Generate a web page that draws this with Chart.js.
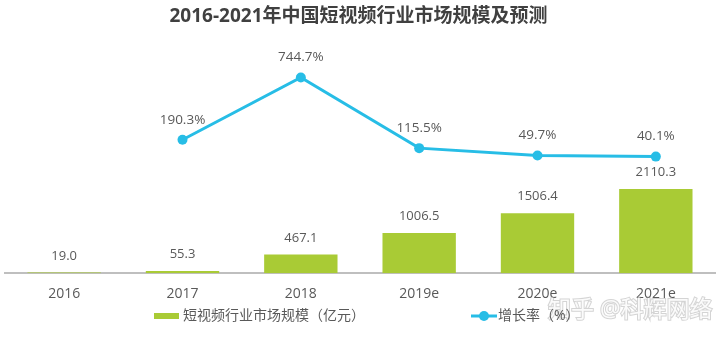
<!DOCTYPE html>
<html><head><meta charset="utf-8">
<script src="https://cdn.jsdelivr.net/npm/chart.js@4/dist/chart.umd.min.js"></script>
<style>html,body{margin:0;padding:0;background:#fff}#wrap{width:720px;height:339px}</style>
</head><body><div id="wrap"><canvas id="c" width="720" height="339"></canvas></div>
<script>
const categories = ['2016', '2017', '2018', '2019e', '2020e', '2021e'];
const marketSize = [19.0, 55.3, 467.1, 1006.5, 1506.4, 2110.3];
const growthRate = [null, 190.3, 744.7, 115.5, 49.7, 40.1];
const seriesNames = ['短视频行业市场规模（亿元）', '增长率（%）'];
const titleText = '2016-2021年中国短视频行业市场规模及预测';
const watermarkText = '知乎 @科辉网络';

const FONT = "'Open Sans','Noto Sans CJK SC',sans-serif";
const GREEN = '#a9cb35';
const CYAN = '#27bde6';
const TEXT = '#595959';

const labelPlugin = {
  id: 'valueLabels',
  afterDatasetsDraw(chart) {
    const ctx = chart.ctx;
    ctx.save();
    ctx.textAlign = 'center';
    ctx.textBaseline = 'middle';
    ctx.fillStyle = TEXT;
    chart.data.datasets.forEach((ds, i) => {
      const meta = chart.getDatasetMeta(i);
      meta.data.forEach((el, j) => {
        const v = ds.data[j];
        if (v === null || v === undefined) return;
        if (ds.type === 'line') {
          ctx.font = '13.5px ' + FONT;
          ctx.fillText(v.toFixed(1) + '%', el.x, el.y - 20);
        } else {
          ctx.font = '13px ' + FONT;
          ctx.fillText(v.toFixed(1), el.x, el.y - 16.5);
        }
      });
    });
    ctx.restore();
  },
  afterDraw(chart) {
    const ctx = chart.ctx;
    ctx.save();
    // watermark
    ctx.font = '23px ' + FONT;
    ctx.textAlign = 'left';
    ctx.textBaseline = 'middle';
    ctx.lineWidth = 2;
    ctx.strokeStyle = 'rgba(160,160,160,0.45)';
    ctx.fillStyle = 'rgba(255,255,255,0.9)';
    ctx.strokeText(watermarkText, 548, 310);
    ctx.fillText(watermarkText, 548, 310);
    // legend
    const ly = 316;
    ctx.fillStyle = GREEN;
    ctx.fillRect(154, ly - 3, 25, 6);
    ctx.font = '14px ' + FONT;
    ctx.fillStyle = TEXT;
    ctx.fillText(seriesNames[0], 183, ly);
    ctx.strokeStyle = CYAN;
    ctx.lineWidth = 3;
    ctx.beginPath();
    ctx.moveTo(471, ly);
    ctx.lineTo(497, ly);
    ctx.stroke();
    ctx.fillStyle = CYAN;
    ctx.beginPath();
    ctx.arc(484, ly, 5, 0, Math.PI * 2);
    ctx.fill();
    ctx.fillStyle = TEXT;
    ctx.fillText(seriesNames[1], 498, ly);
    ctx.restore();
  }
};

new Chart(document.getElementById('c'), {
  data: {
    labels: categories,
    datasets: [
      {
        type: 'line',
        label: seriesNames[1],
        data: growthRate,
        yAxisID: 'yLine',
        borderColor: CYAN,
        backgroundColor: CYAN,
        borderWidth: 3,
        pointRadius: 5,
        pointBackgroundColor: CYAN,
        pointBorderWidth: 0,
        tension: 0,
        order: 0
      },
      {
        type: 'bar',
        label: seriesNames[0],
        data: marketSize,
        yAxisID: 'yBar',
        backgroundColor: GREEN,
        categoryPercentage: 1,
        barPercentage: 0.62,
        order: 1
      }
    ]
  },
  options: {
    responsive: false,
    animation: false,
    layout: { padding: { left: 0, right: 3, top: 0, bottom: 25 } },
    plugins: {
      legend: { display: false },
      tooltip: { enabled: false },
      title: {
        display: true,
        text: titleText,
        color: '#404040',
        font: { size: 19, weight: 'bold', family: FONT },
        padding: { top: 5, bottom: 12 }
      }
    },
    scales: {
      x: {
        grid: { display: true, color: 'rgba(0,0,0,0)', drawTicks: false },
        border: { display: true, color: '#bfbfbf', width: 2 },
        ticks: { color: TEXT, font: { size: 14, family: FONT }, padding: 12 }
      },
      yBar: { display: false, min: 0, max: 5856 },
      yLine: { display: false, min: -999, max: 1081 }
    }
  },
  plugins: [labelPlugin]
});
</script></body></html>
